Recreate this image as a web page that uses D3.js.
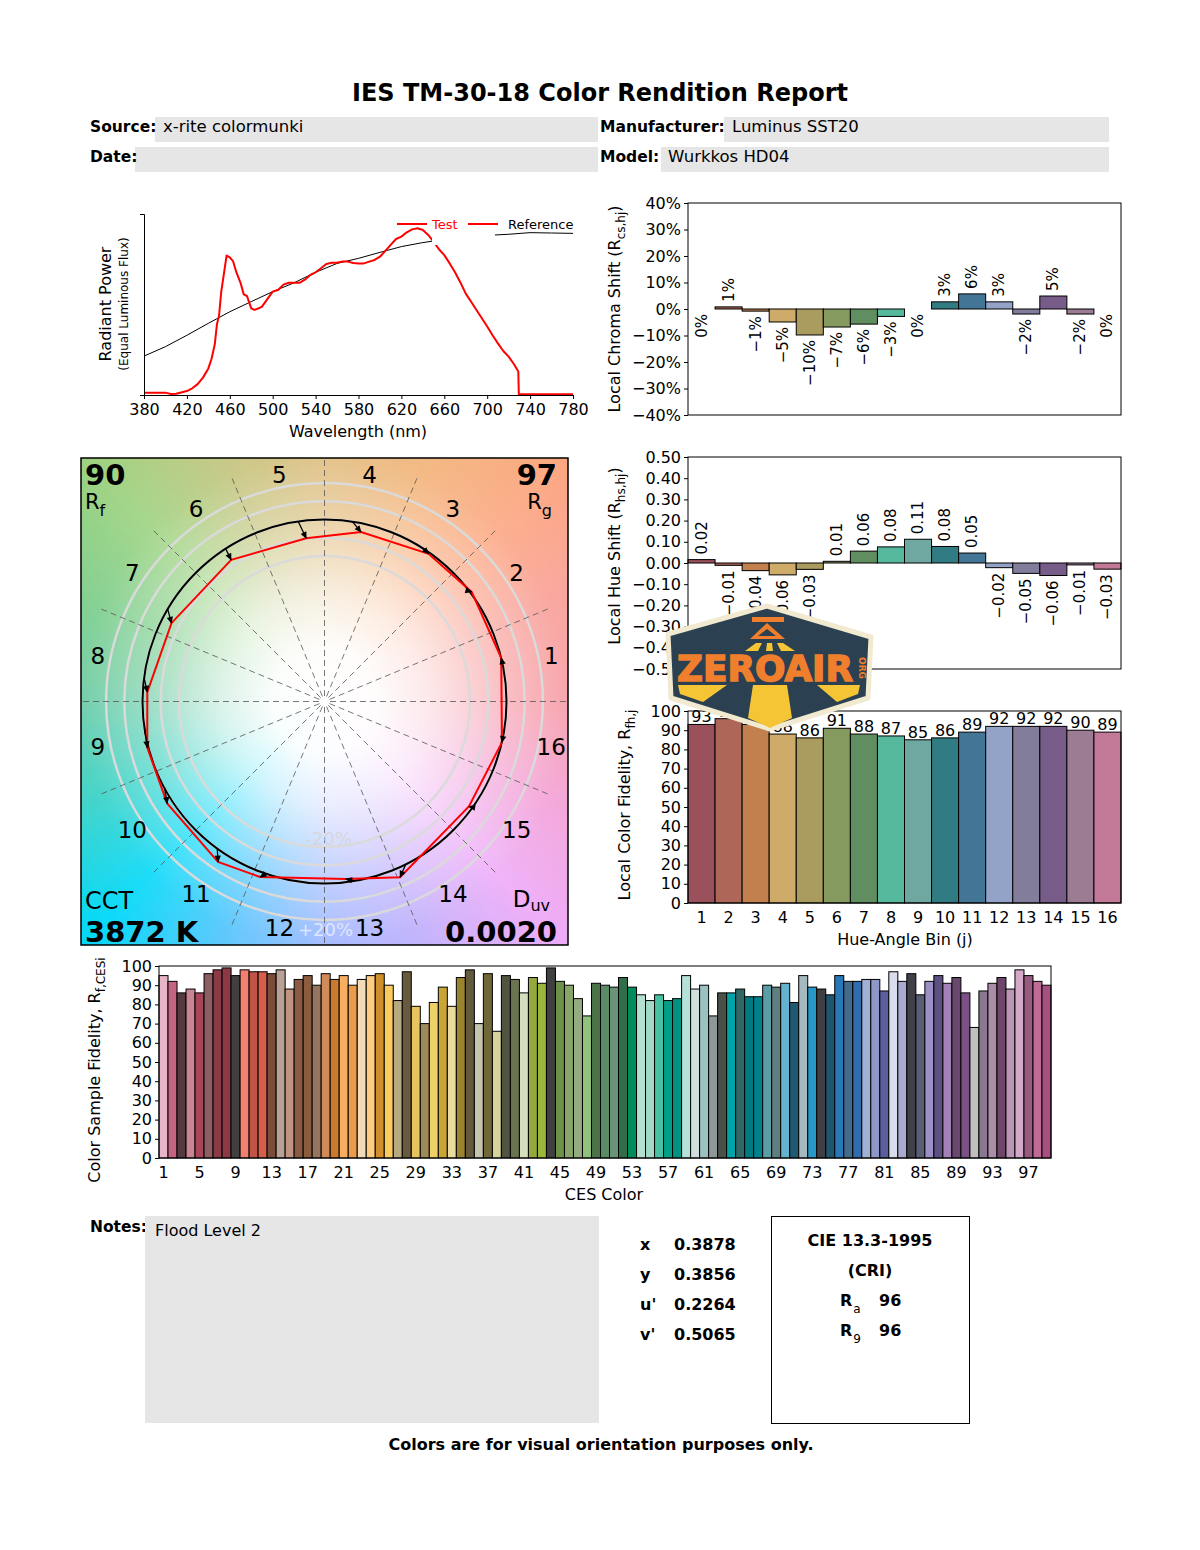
<!DOCTYPE html>
<html>
<head>
<meta charset="utf-8">
<script src="https://cdn.jsdelivr.net/npm/d3@7"></script>
<style>
    body { margin: 0; background: #fff; }
    svg { display: block; font-family: "DejaVu Sans", sans-serif; }
</style>
</head>
<body>
<svg id="report" width="1200" height="1550"></svg>
<script>

// ---------- Data ----------
const reportTitle = 'IES TM-30-18 Color Rendition Report';
const headerLabels = ['Source:', 'Date:', 'Manufacturer:', 'Model:'];
const headerValues = ['x-rite colormunki', '', 'Luminus SST20', 'Wurkkos HD04'];

// Spectrum (wavelength nm, relative power)
const spectrumTest = [
    [380, 0.013], [400, 0.013], [405, 0.006], [410, 0.007], [420, 0.022], [425, 0.037],
    [430, 0.06], [435, 0.096], [440, 0.147], [443, 0.2], [446, 0.28], [448, 0.39],
    [450, 0.44], [452, 0.57], [455, 0.69], [457, 0.77], [460, 0.76], [463, 0.74],
    [466, 0.68], [470, 0.62], [473, 0.556], [476, 0.547], [480, 0.479], [483, 0.47],
    [487, 0.479], [490, 0.488], [495, 0.53], [500, 0.571], [505, 0.58], [510, 0.61],
    [515, 0.62], [520, 0.62], [525, 0.62], [530, 0.637], [535, 0.663], [540, 0.678],
    [545, 0.70], [550, 0.724], [555, 0.731], [560, 0.731], [565, 0.737], [570, 0.737],
    [575, 0.729], [580, 0.726], [585, 0.727], [590, 0.737], [595, 0.746], [600, 0.764],
    [605, 0.796], [610, 0.829], [615, 0.862], [620, 0.875], [625, 0.899], [630, 0.915],
    [635, 0.921], [640, 0.912], [645, 0.884], [650, 0.847], [655, 0.805], [660, 0.773],
    [665, 0.727], [670, 0.678], [675, 0.622], [680, 0.56], [685, 0.515], [690, 0.47],
    [695, 0.424], [700, 0.378], [705, 0.33], [710, 0.285], [715, 0.243], [720, 0.212],
    [725, 0.17], [729, 0.13], [729.5, 0.004], [780, 0.004]
];
const spectrumReference = [
    [380, 0.215], [400, 0.267], [420, 0.33], [440, 0.396], [460, 0.46], [480, 0.516],
    [500, 0.571], [520, 0.62], [540, 0.678], [560, 0.727], [580, 0.755], [600, 0.788],
    [620, 0.82], [640, 0.842], [660, 0.86], [680, 0.872], [700, 0.882], [720, 0.888],
    [740, 0.897], [760, 0.895], [780, 0.893]
];
const wavelengthTicks = [380, 420, 460, 500, 540, 580, 620, 660, 700, 740, 780];

// Hue-angle bins
const hueBins = [1, 2, 3, 4, 5, 6, 7, 8, 9, 10, 11, 12, 13, 14, 15, 16];
const binColors = ['#9b515c', '#ae6658', '#c2804f', '#cfab69', '#aa9c5e', '#849a5e', '#618e60', '#56b89c',
                   '#6ea8a0', '#307c82', '#437696', '#93a3c7', '#837d9c', '#775c8a', '#9b7c92', '#c37a98'];
const chromaShift = [0, 0.008, -0.008, -0.049, -0.098, -0.068, -0.057, -0.028,
                     0, 0.027, 0.057, 0.027, -0.019, 0.049, -0.019, 0];
const hueShift = [0.016, -0.011, -0.036, -0.056, -0.03, 0.008, 0.056, 0.076,
                  0.112, 0.078, 0.047, -0.022, -0.049, -0.059, -0.009, -0.029];
const binFidelity = [93, 96, 93, 88, 86, 91, 88, 87, 85, 86, 89, 92, 92, 92, 90, 89];
const refHueAngle = [12.9, 37.3, 56.9, 81.2, 98.3, 122.9, 149.5, 172.5,
                     188.2, 208.6, 233.9, 251.1, 279.7, 296.5, 324.5, 348.7];
const chromaTicks = [-0.4, -0.3, -0.2, -0.1, 0, 0.1, 0.2, 0.3, 0.4];
const hueTicks = [-0.5, -0.4, -0.3, -0.2, -0.1, 0, 0.1, 0.2, 0.3, 0.4, 0.5];
const fidelityTicks = [0, 10, 20, 30, 40, 50, 60, 70, 80, 90, 100];

// Color evaluation samples
const cesValues = [
    95, 92, 86, 88, 86, 96, 98, 99, 95, 98,
    97, 97, 96, 98, 88, 93, 95, 90, 96, 93,
    95, 90, 93, 95, 96, 90, 82, 97, 79, 70,
    81, 89, 79, 94, 98, 70, 96, 66, 95, 93,
    86, 94, 91, 99, 92, 90, 83, 74, 91, 90,
    89, 94, 89, 85, 82, 85, 82, 83, 95, 88,
    90, 74, 86, 86, 88, 84, 84, 90, 89, 91,
    81, 95, 89, 88, 85, 95, 92, 92, 93, 93,
    87, 97, 92, 96, 85, 92, 95, 91, 94, 86,
    68, 87, 91, 94, 88, 98, 95, 92, 90
];
const cesColors = [
    '#e8b4c8', '#c46482', '#553a40', '#c98592', '#a84558', '#8d5f62', '#8c3a45', '#8b3a44', '#404040', '#f47f6e',
    '#c05446', '#d65e4b', '#7a4c3a', '#b9a295', '#c09480', '#8a5a42', '#8c5c3f', '#967560', '#d08b58', '#c97a2f',
    '#f8ae60', '#eb9b4b', '#f2dcb8', '#fccd82', '#d18f2b', '#fbcb60', '#b8aa80', '#685a3c', '#e8c45e', '#9c8a5a',
    '#efd068', '#c9a535', '#e9da9e', '#9a8430', '#625a3a', '#c5c4ad', '#706838', '#d7d39d', '#505440', '#6a7450',
    '#d5dfc0', '#95a83c', '#9bb83c', '#404040', '#6e9148', '#8aa56a', '#93ad80', '#90c27c', '#4a7448', '#5a8a66',
    '#6a9478', '#306e4a', '#008c5a', '#b4e0d2', '#a2dac8', '#48c0a2', '#00a088', '#009480', '#b4e2d8', '#d0dedd',
    '#9bc2c0', '#8e9898', '#4a5048', '#00a4a8', '#306868', '#007c80', '#00828e', '#5a9ea6', '#5e7e80', '#64b2d0',
    '#1f5a72', '#a6b8c0', '#2898c8', '#404044', '#1e5670', '#2878b8', '#446a8c', '#306cae', '#9fb2d6', '#8e98c8',
    '#5a5e9e', '#d8dcec', '#aaaad0', '#404048', '#5a5e74', '#9a90c6', '#5e5084', '#a280b8', '#68486e', '#7a5086',
    '#c0c0c0', '#8a7890', '#aa8ea8', '#6e466a', '#ba96b4', '#d4a8c8', '#985a80', '#c06a96', '#a85080'
];
const cesTicks = [1, 5, 9, 13, 17, 21, 25, 29, 33, 37, 41, 45, 49, 53, 57, 61, 65, 69, 73, 77, 81, 85, 89, 93, 97];

// Summary metrics
const fidelityRf = 90;
const gamutRg = 97;
const cctText = '3872 K';
const duvText = '0.0020';
const chromaticityLabels = ['x', 'y', 'u\'', 'v\''];
const chromaticityValues = ['0.3878', '0.3856', '0.2264', '0.5065'];
const criRa = 96;
const criR9 = 96;
const notesText = 'Flood Level 2';
const footerText = 'Colors are for visual orientation purposes only.';

// ---------- Drawing ----------
const FONT = '"DejaVu Sans", sans-serif';
const svg = d3.select('#report');
const defs = svg.append('defs');
svg.append('rect').attr('width', 1200).attr('height', 1550).attr('fill', '#fff');

function styleAxis(g) {
    g.attr('font-family', FONT).attr('font-size', 16);
    g.selectAll('.tick line').attr('stroke', '#000');
    g.selectAll('.tick text').attr('fill', '#000');
    g.selectAll('.domain').attr('stroke', '#000');
}

function frame(g, x0, x1, y0, y1) {
    g.append('rect')
        .attr('x', x0).attr('y', y0).attr('width', x1 - x0).attr('height', y1 - y0)
        .attr('fill', 'none').attr('stroke', '#000').attr('stroke-width', 1);
}

// Rotated y-label: main text, subscript, optional closing text
function yLabel(g, x, y, main, sub, tail) {
    const t = g.append('text')
        .attr('transform', `translate(${x},${y}) rotate(-90)`)
        .attr('text-anchor', 'middle').attr('font-size', 16);
    t.append('tspan').text(main);
    t.append('tspan').attr('dy', 5).attr('font-size', 12).text(sub);
    if (tail) t.append('tspan').attr('dy', -5).text(tail);
    return t;
}

// ---------- Header ----------
svg.append('text').attr('x', 600).attr('y', 101).attr('text-anchor', 'middle')
    .attr('font-size', 24).attr('font-weight', 'bold').text(reportTitle);

const headerLayout = [
    { x: 90, y: 117, boxX: 155, boxEnd: 598, textX: 163 },
    { x: 90, y: 147, boxX: 135, boxEnd: 598, textX: 143 },
    { x: 600, y: 117, boxX: 724, boxEnd: 1109, textX: 732 },
    { x: 600, y: 147, boxX: 661, boxEnd: 1109, textX: 668 }
];
headerLabels.forEach((label, i) => {
    const l = headerLayout[i];
    svg.append('rect').attr('x', l.boxX).attr('y', l.y).attr('width', l.boxEnd - l.boxX).attr('height', 25).attr('fill', '#e6e6e6');
    svg.append('text').attr('x', l.x).attr('y', l.y + 15).attr('font-size', 15.5).attr('font-weight', 'bold').text(label);
    svg.append('text').attr('x', l.textX).attr('y', l.y + 15).attr('font-size', 16.5).text(headerValues[i]);
});

// ---------- Spectrum ----------
const specX = d3.scaleLinear().domain([380, 780]).range([144, 573]);
const specY = d3.scaleLinear().domain([0, 1]).range([395, 214]);
const specLine = d3.line().x((d) => specX(d[0])).y((d) => specY(d[1]));
const spec = svg.append('g').attr('class', 'spectrum');

spec.append('path').datum(spectrumReference).attr('d', specLine)
    .attr('fill', 'none').attr('stroke', '#000').attr('stroke-width', 1);
spec.append('path').datum(spectrumTest).attr('d', specLine)
    .attr('fill', 'none').attr('stroke', '#ff0000').attr('stroke-width', 2).attr('stroke-linejoin', 'round');

// Legend (its white box hides part of the curves)
const legend = spec.append('g');
legend.append('rect').attr('x', 432).attr('y', 214).attr('width', 63).attr('height', 31).attr('fill', '#fff');
legend.append('line').attr('x1', 397).attr('x2', 427).attr('y1', 224).attr('y2', 224).attr('stroke', '#ff0000').attr('stroke-width', 2);
legend.append('text').attr('x', 432).attr('y', 229).attr('font-size', 13).attr('fill', '#ff0000').text('Test');
legend.append('line').attr('x1', 468).attr('x2', 498).attr('y1', 224).attr('y2', 224).attr('stroke', '#ff0000').attr('stroke-width', 2);
legend.append('text').attr('x', 508).attr('y', 229).attr('font-size', 13).attr('fill', '#000').text('Reference');

spec.append('g').attr('transform', 'translate(0,395)')
    .call(d3.axisBottom(specX).tickValues(wavelengthTicks).tickSize(4).tickPadding(5))
    .call(styleAxis);
spec.append('g').attr('transform', 'translate(144,0)')
    .call(d3.axisLeft(specY).tickValues([1]).tickFormat('').tickSize(4))
    .call(styleAxis);
spec.append('text').attr('x', 358).attr('y', 437).attr('text-anchor', 'middle').attr('font-size', 16).text('Wavelength (nm)');
spec.append('text').attr('transform', 'translate(111,304) rotate(-90)').attr('text-anchor', 'middle')
    .attr('font-size', 16).text('Radiant Power');
spec.append('text').attr('transform', 'translate(128,304) rotate(-90)').attr('text-anchor', 'middle')
    .attr('font-size', 12).text('(Equal Luminous Flux)');

// ---------- Bin bar charts ----------
const binX = d3.scaleBand().domain(hueBins).range([688, 1121]).padding(0);

function drawBars(g, values, y) {
    g.append('g').selectAll('rect')
        .data(values.map((v, i) => ({ v, i })).filter((d) => d.v !== 0))
        .join('rect')
        .attr('x', (d) => binX(hueBins[d.i]))
        .attr('width', binX.bandwidth())
        .attr('y', (d) => Math.min(y(d.v), y(0)))
        .attr('height', (d) => Math.abs(y(d.v) - y(0)))
        .attr('fill', (d) => binColors[d.i])
        .attr('stroke', '#000').attr('stroke-width', 1);
}

function rotatedLabels(g, values, y, fmt) {
    const lab = g.append('g').selectAll('g').data(values).join('g')
        .attr('transform', (d, i) => {
            const cx = binX(hueBins[i]) + binX.bandwidth() / 2;
            const yy = d > 0 ? y(d) - 5 : y(Math.min(d, 0)) + 5;
            return `translate(${cx},${yy}) rotate(-90)`;
        });
    lab.append('text')
        .attr('text-anchor', (d) => d > 0 ? 'start' : 'end')
        .attr('dominant-baseline', 'central')
        .attr('font-size', 15)
        .text(fmt);
    lab.each(function () {
        const bb = d3.select(this).select('text').node().getBBox();
        d3.select(this).insert('rect', 'text')
            .attr('x', bb.x - 2).attr('y', bb.y - 1).attr('width', bb.width + 4).attr('height', bb.height + 2)
            .attr('fill', '#fff');
    });
}

function leftAxis(g, y, ticks, fmt) {
    g.append('g').attr('transform', 'translate(688,0)')
        .call(d3.axisLeft(y).tickValues(ticks).tickFormat(fmt).tickSize(4).tickPadding(3))
        .call((a) => a.select('.domain').remove())
        .call(styleAxis);
}

// Chroma shift
const chromaY = d3.scaleLinear().domain([-0.4, 0.4]).range([415, 203]);
const chromaG = svg.append('g');
drawBars(chromaG, chromaShift, chromaY);
frame(chromaG, 688, 1121, 203, 415);
leftAxis(chromaG, chromaY, chromaTicks, d3.format('.0%'));
rotatedLabels(chromaG, chromaShift, chromaY, d3.format('.0%'));
yLabel(chromaG, 620, 309, 'Local Chroma Shift (R', 'cs,hj', ')');

// Hue shift
const hueY = d3.scaleLinear().domain([-0.5, 0.5]).range([669, 457]);
const hueG = svg.append('g');
drawBars(hueG, hueShift, hueY);
frame(hueG, 688, 1121, 457, 669);
leftAxis(hueG, hueY, hueTicks, d3.format('.2f'));
rotatedLabels(hueG, hueShift, hueY, d3.format('.2f'));
yLabel(hueG, 620, 556, 'Local Hue Shift (R', 'hs,hj', ')');

// Local color fidelity
const fidY = d3.scaleLinear().domain([0, 100]).range([903, 711]);
const fidG = svg.append('g');
drawBars(fidG, binFidelity, fidY);
frame(fidG, 688, 1121, 711, 903);
leftAxis(fidG, fidY, fidelityTicks, d3.format('d'));
fidG.append('g').attr('transform', 'translate(0,903)')
    .call(d3.axisBottom(binX).tickSize(0).tickPadding(9))
    .call((a) => a.select('.domain').remove())
    .call(styleAxis);
fidG.append('g').selectAll('text').data(binFidelity).join('text')
    .attr('x', (d, i) => binX(hueBins[i]) + binX.bandwidth() / 2)
    .attr('y', (d) => fidY(d) - 2)
    .attr('text-anchor', 'middle').attr('font-size', 16)
    .text((d) => d);
fidG.append('text').attr('x', 905).attr('y', 945).attr('text-anchor', 'middle').attr('font-size', 16).text('Hue-Angle Bin (j)');
yLabel(fidG, 630, 805, 'Local Color Fidelity, R', 'fh,j');

// ---------- CES chart ----------
const cesIds = cesValues.map((v, i) => i + 1);
const cesX = d3.scaleBand().domain(cesIds).range([159, 1051]).padding(0);
const cesY = d3.scaleLinear().domain([0, 100]).range([1158, 966]);
const cesG = svg.append('g');
cesG.append('g').selectAll('rect').data(cesValues).join('rect')
    .attr('x', (d, i) => cesX(cesIds[i]))
    .attr('width', cesX.bandwidth())
    .attr('y', (d) => cesY(d))
    .attr('height', (d) => cesY(0) - cesY(d))
    .attr('fill', (d, i) => cesColors[i])
    .attr('stroke', '#000').attr('stroke-width', 1);
frame(cesG, 159, 1051, 966, 1158);
cesG.append('g').attr('transform', 'translate(159,0)')
    .call(d3.axisLeft(cesY).tickValues(fidelityTicks).tickFormat(d3.format('d')).tickSize(4).tickPadding(3))
    .call((a) => a.select('.domain').remove())
    .call(styleAxis);
cesG.append('g').attr('transform', 'translate(0,1158)')
    .call(d3.axisBottom(cesX).tickValues(cesTicks).tickSize(0).tickPadding(9))
    .call((a) => a.select('.domain').remove())
    .call(styleAxis);
cesG.append('text').attr('x', 604).attr('y', 1200).attr('text-anchor', 'middle').attr('font-size', 16).text('CES Color');
yLabel(cesG, 100, 1070, 'Color Sample Fidelity, R', 'f,CESi');

// ---------- Color vector graphic ----------
const vgX = 81, vgY = 458, vgSize = 487;
const cx = vgX + vgSize / 2, cy = vgY + vgSize / 2;
const rScale = d3.scaleLinear().domain([0, 1]).range([0, 182]);
const rad = (deg) => deg * Math.PI / 180;
const polar = (deg, rr) => [cx + rScale(rr) * Math.cos(rad(deg)), cy - rScale(rr) * Math.sin(rad(deg))];

defs.append('clipPath').attr('id', 'vgClip').append('rect')
    .attr('x', vgX).attr('y', vgY).attr('width', vgSize).attr('height', vgSize);

const vg = svg.append('g').attr('clip-path', 'url(#vgClip)');

// Hue background: wedges coloured by hue angle, whitened toward the centre
const bgAngles = [0, 22.5, 45, 67.5, 90, 112.5, 135, 157.5, 180, 202.5, 225, 247.5, 270, 292.5, 315, 337.5, 360];
const bgColors = ['#f699a3', '#f89c95', '#fca680', '#f2b176', '#dfbb7b', '#c2c37a', '#9cd27f', '#76cb86',
                  '#61c8a0', '#2fcfc2', '#00d8f8', '#4ec2fc', '#98b3ff', '#bdacfc', '#eeaaf8', '#f39ed4', '#f699a3'];
const hueColor = d3.scaleLinear().domain(bgAngles).range(bgColors).interpolate(d3.interpolateRgb);
const wedgeStep = 2;
vg.append('g').selectAll('path').data(d3.range(0, 360, wedgeStep)).join('path')
    .attr('d', (a) => {
        const p0 = polar(a - 0.2, 2.2), p1 = polar(a + wedgeStep + 0.2, 2.2);
        return `M${cx},${cy}L${p0[0]},${p0[1]}L${p1[0]},${p1[1]}Z`;
    })
    .attr('fill', (a) => hueColor(a + wedgeStep / 2));

const glow = defs.append('radialGradient').attr('id', 'glow').attr('gradientUnits', 'userSpaceOnUse')
    .attr('cx', cx).attr('cy', cy).attr('r', 345);
[[0, 1], [0.15, 0.97], [0.3, 0.78], [0.53, 0.36], [0.71, 0.12], [1, 0]].forEach((s) => {
    glow.append('stop').attr('offset', s[0]).attr('stop-color', '#fff').attr('stop-opacity', s[1]);
});
vg.append('circle').attr('cx', cx).attr('cy', cy).attr('r', 345).attr('fill', 'url(#glow)');

// Gray rings
vg.append('g').selectAll('circle').data([0.8, 0.9, 1.0, 1.1, 1.2]).join('circle')
    .attr('cx', cx).attr('cy', cy).attr('r', (d) => rScale(d))
    .attr('fill', 'none').attr('stroke', '#dadada').attr('stroke-width', 2.5);

// Bin boundaries
vg.append('g').selectAll('line').data(d3.range(0, 360, 22.5)).join('line')
    .attr('x1', (a) => polar(a, 0.03)[0]).attr('y1', (a) => polar(a, 0.03)[1])
    .attr('x2', (a) => polar(a, 1.34)[0]).attr('y2', (a) => polar(a, 1.34)[1])
    .attr('stroke', '#555').attr('stroke-width', 0.8).attr('stroke-dasharray', '6,4');

vg.append('text').attr('x', cx + 4).attr('y', cy + rScale(0.8) - 2).attr('text-anchor', 'middle')
    .attr('font-size', 18).attr('fill', '#d6d6dc').text('-20%');
vg.append('text').attr('x', cx + 1).attr('y', cy + rScale(1.2) + 16).attr('text-anchor', 'middle')
    .attr('font-size', 18).attr('fill', '#dfe6ff').text('+20%');

// Reference circle
vg.append('circle').attr('cx', cx).attr('cy', cy).attr('r', rScale(1))
    .attr('fill', 'none').attr('stroke', '#000').attr('stroke-width', 2);

// Test polygon
const testPts = refHueAngle.map((a, i) => {
    const t = rad(a), rr = 1 + chromaShift[i], h = hueShift[i];
    const x = rr * Math.cos(t) - h * Math.sin(t);
    const y = rr * Math.sin(t) + h * Math.cos(t);
    return [cx + rScale(x), cy - rScale(y)];
});
vg.append('path').datum(testPts)
    .attr('d', d3.line().curve(d3.curveLinearClosed))
    .attr('fill', 'none').attr('stroke', '#ff0000').attr('stroke-width', 2);

// Arrows
defs.append('marker').attr('id', 'arrowHead').attr('viewBox', '0 0 10 10')
    .attr('refX', 9).attr('refY', 5).attr('markerWidth', 8).attr('markerHeight', 7)
    .attr('markerUnits', 'userSpaceOnUse').attr('orient', 'auto')
    .append('path').attr('d', 'M0,0.5L10,5L0,9.5Z').attr('fill', '#000');
vg.append('g').selectAll('line').data(refHueAngle).join('line')
    .attr('x1', (a) => polar(a, 1)[0]).attr('y1', (a) => polar(a, 1)[1])
    .attr('x2', (a, i) => testPts[i][0]).attr('y2', (a, i) => testPts[i][1])
    .attr('stroke', '#000').attr('stroke-width', 1.3).attr('marker-end', 'url(#arrowHead)');

// Bin numbers
vg.append('g').selectAll('text').data(hueBins).join('text')
    .attr('x', (b) => polar((b - 0.5) * 22.5, 1.27)[0])
    .attr('y', (b) => polar((b - 0.5) * 22.5, 1.27)[1])
    .attr('text-anchor', 'middle').attr('dominant-baseline', 'central')
    .attr('font-size', 23).text((b) => b);

// Corner metrics
vg.append('text').attr('x', vgX + 4).attr('y', vgY + 27).attr('font-size', 29).attr('font-weight', 'bold').text(fidelityRf);
const rfT = vg.append('text').attr('x', vgX + 4).attr('y', vgY + 51).attr('font-size', 21);
rfT.append('tspan').text('R');
rfT.append('tspan').attr('dy', 7).attr('font-size', 16).text('f');
vg.append('text').attr('x', vgX + vgSize - 11).attr('y', vgY + 27).attr('text-anchor', 'end')
    .attr('font-size', 29).attr('font-weight', 'bold').text(gamutRg);
const rgT = vg.append('text').attr('x', vgX + vgSize - 16).attr('y', vgY + 51).attr('text-anchor', 'end').attr('font-size', 21);
rgT.append('tspan').text('R');
rgT.append('tspan').attr('dy', 7).attr('font-size', 16).text('g');
vg.append('text').attr('x', vgX + 4).attr('y', vgY + 451).attr('font-size', 24).text('CCT');
vg.append('text').attr('x', vgX + 4).attr('y', vgY + 484).attr('font-size', 29).attr('font-weight', 'bold').text(cctText);
const duvT = vg.append('text').attr('x', vgX + vgSize - 18).attr('y', vgY + 449).attr('text-anchor', 'end').attr('font-size', 23);
duvT.append('tspan').text('D');
duvT.append('tspan').attr('dy', 4).attr('font-size', 16).text('uv');
vg.append('text').attr('x', vgX + vgSize - 11).attr('y', vgY + 484).attr('text-anchor', 'end')
    .attr('font-size', 29).attr('font-weight', 'bold').text(duvText);

svg.append('rect').attr('x', vgX).attr('y', vgY).attr('width', vgSize).attr('height', vgSize)
    .attr('fill', 'none').attr('stroke', '#000').attr('stroke-width', 1.5);

// ---------- Bottom section ----------
svg.append('text').attr('x', 90).attr('y', 1232).attr('font-size', 15.5).attr('font-weight', 'bold').text('Notes:');
svg.append('rect').attr('x', 145).attr('y', 1216).attr('width', 454).attr('height', 207).attr('fill', '#e6e6e6');
svg.append('text').attr('x', 155).attr('y', 1236).attr('font-size', 16).text(notesText);

chromaticityLabels.forEach((l, i) => {
    svg.append('text').attr('x', 640).attr('y', 1250 + i * 30).attr('font-size', 16).attr('font-weight', 'bold').text(l);
    svg.append('text').attr('x', 674).attr('y', 1250 + i * 30).attr('font-size', 16).attr('font-weight', 'bold').text(chromaticityValues[i]);
});

svg.append('rect').attr('x', 771.5).attr('y', 1216.5).attr('width', 198).attr('height', 207)
    .attr('fill', 'none').attr('stroke', '#000').attr('stroke-width', 1);
svg.append('text').attr('x', 870).attr('y', 1246).attr('text-anchor', 'middle').attr('font-size', 16).attr('font-weight', 'bold').text('CIE 13.3-1995');
svg.append('text').attr('x', 870).attr('y', 1276).attr('text-anchor', 'middle').attr('font-size', 16).attr('font-weight', 'bold').text('(CRI)');
[['a', criRa], ['9', criR9]].forEach((r, i) => {
    const t = svg.append('text').attr('x', 840).attr('y', 1306 + i * 30).attr('font-size', 16).attr('font-weight', 'bold');
    t.append('tspan').text('R');
    t.append('tspan').attr('dx', 1).attr('dy', 7).attr('font-size', 12).attr('font-weight', 'normal').text(r[0]);
    svg.append('text').attr('x', 879).attr('y', 1306 + i * 30).attr('font-size', 16).attr('font-weight', 'bold').text(r[1]);
});

svg.append('text').attr('x', 601).attr('y', 1450).attr('text-anchor', 'middle').attr('font-size', 16).attr('font-weight', 'bold').text(footerText);

// ---------- Watermark logo ----------
const logo = svg.append('g').attr('class', 'logo');
logo.append('path').attr('d', 'M767,606L871,637L868,698L770,729L671,698L668,634Z')
    .attr('fill', '#2b4152').attr('stroke', '#f1ead0').attr('stroke-width', 5).attr('stroke-linejoin', 'round');
logo.append('rect').attr('x', 752).attr('y', 617).attr('width', 32).attr('height', 5).attr('fill', '#f07f2d');
logo.append('path').attr('d', 'M767,623L785,639L750,639Z').attr('fill', '#f07f2d');
logo.append('path').attr('d', 'M767,629L776,636L758,636Z').attr('fill', '#2b4152');
['M756,643L762,643L758,651L745,651Z', 'M767,643L772,643L773,651L766,651Z', 'M777,643L783,643L795,651L781,651Z']
    .forEach((d) => logo.append('path').attr('d', d).attr('fill', '#f5c536'));
logo.append('text').attr('x', 677).attr('y', 681).attr('font-size', 36).attr('font-weight', 'bold')
    .attr('textLength', 176).attr('lengthAdjust', 'spacingAndGlyphs')
    .attr('fill', '#f07f2d').attr('stroke', '#f07f2d').attr('stroke-width', 1.5).text('ZEROAIR');
logo.append('text').attr('transform', 'translate(859,668) rotate(90)').attr('text-anchor', 'middle')
    .attr('font-size', 9).attr('font-weight', 'bold').attr('fill', '#f07f2d').text('ORG');
['M678,685L727,685L703,702L680,694Z', 'M753,685L787,685L792,718L770,728L748,718Z', 'M817,685L860,685L858,694L837,702Z']
    .forEach((d) => logo.append('path').attr('d', d).attr('fill', '#f5c536'));

</script>
</body>
</html>
